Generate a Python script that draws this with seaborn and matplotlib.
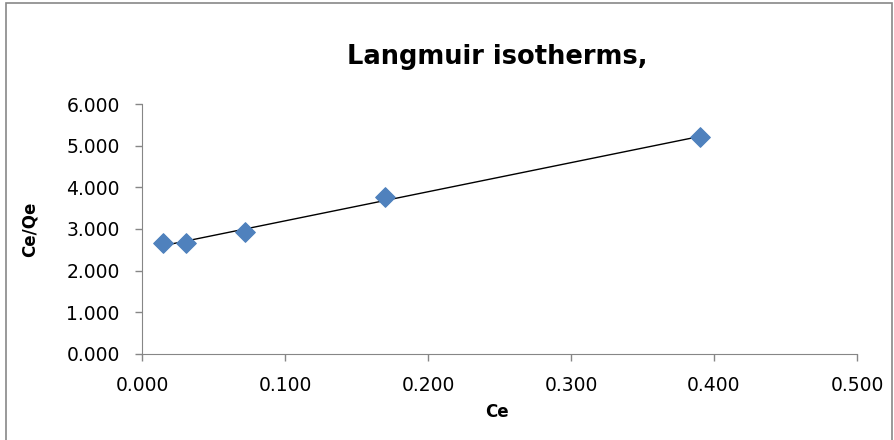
import numpy as np
import pandas as pd
import matplotlib
matplotlib.use("Agg")
import matplotlib.pyplot as plt
import seaborn as sns
from matplotlib.patches import Rectangle
from matplotlib.ticker import FormatStrFormatter

# data
ce = [0.015, 0.031, 0.072, 0.170, 0.390]
ce_qe = [2.66, 2.67, 2.92, 3.77, 5.20]

df = pd.DataFrame({"Ce": ce, "Ce/Qe": ce_qe})

sns.set_style("white")
plt.rcParams["font.family"] = ["DejaVu Sans"]
plt.rcParams["text.color"] = "black"
plt.rcParams["axes.labelcolor"] = "black"
plt.rcParams["xtick.color"] = "black"
plt.rcParams["ytick.color"] = "black"

fig = plt.figure(figsize=(8.95, 4.4), dpi=100)
ax = fig.add_axes([0.1587, 0.1955, 0.7988, 0.5681])

# linear trendline
slope, intercept = np.polyfit(df["Ce"], df["Ce/Qe"], 1)
xs = np.array([df["Ce"].min(), df["Ce"].max()])
ax.plot(xs, slope * xs + intercept, color="black", lw=1.0, zorder=2)

sns.scatterplot(data=df, x="Ce", y="Ce/Qe", marker="D", s=100, color="#4F81BD",
                edgecolor="#4F81BD", ax=ax, zorder=3)

ax.set_xlim(0, 0.5)
ax.set_ylim(0, 6)
ax.set_xticks(np.arange(0, 0.51, 0.1))
ax.set_yticks(np.arange(0, 6.1, 1))
ax.xaxis.set_major_formatter(FormatStrFormatter("%.3f"))
ax.yaxis.set_major_formatter(FormatStrFormatter("%.3f"))
ax.tick_params(axis="both", labelsize=13.5, length=5, width=1, color="#868686",
               labelcolor="black", direction="out", bottom=True, left=True, pad=11)

for s in ["top", "right"]:
    ax.spines[s].set_visible(False)
for s in ["left", "bottom"]:
    ax.spines[s].set_color("#868686")

ax.set_xlabel("Ce", fontsize=12, fontweight="bold", color="black")
ax.set_ylabel("Ce/Qe", fontsize=12, fontweight="bold", color="black")
ax.xaxis.set_label_coords(0.497, -0.232)
ax.xaxis.label.set_va("center")
ax.yaxis.set_label_coords(-0.157, 0.5)
ax.yaxis.label.set_va("center")

fig.text(0.556, 0.870, "Langmuir isotherms,", ha="center", va="center",
         fontsize=18.5, fontweight="bold")

# chart border
fig.patches.append(Rectangle((0.007, -0.01), 0.99, 1.003, transform=fig.transFigure,
                             fill=False, edgecolor="#888888", lw=1.2))

fig.savefig("out.png", dpi=100)
